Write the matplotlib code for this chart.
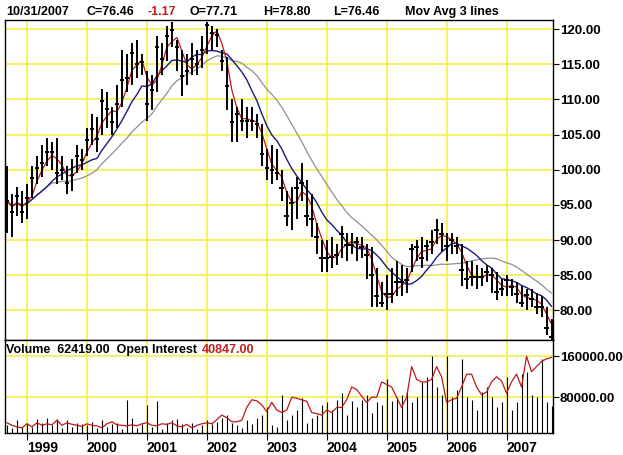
import matplotlib
matplotlib.use("Agg")
import matplotlib.pyplot as plt
import numpy as np
import pandas as pd

plt.rcParams['font.family'] = ['Liberation Sans', 'DejaVu Sans']

close = [95.6,94.0,96.3,94.0,
 96.0,98.8,100.2,100.9,102.6,102.6,99.5,100.0,98.1,99.3,101.9,101.4,
 104.2,105.8,104.4,109.8,108.6,106.8,109.3,112.7,113.1,116.6,115.0,115.3,
 109.3,111.4,117.5,115.8,119.0,119.9,117.5,113.3,114.0,115.8,115.0,117.1,
 120.6,119.4,119.2,115.4,111.9,106.8,107.9,107.0,107.0,107.0,106.5,102.3,
 100.2,100.0,99.5,97.4,93.5,95.3,97.4,98.1,93.5,93.0,90.4,87.4,
 87.4,87.6,87.9,90.9,89.3,89.3,89.7,89.0,87.9,85.0,82.0,81.1,
 82.4,82.4,84.1,84.1,84.3,88.8,89.0,87.4,89.2,89.7,91.4,90.9,
 89.2,90.0,89.2,85.7,84.5,84.8,84.8,84.8,85.5,85.0,82.6,83.1,
 84.3,83.3,82.4,81.0,82.2,81.7,80.5,80.5,77.5,76.2]
high = [100.5,96.5,97.5,97.0,
 98.0,100.5,102.0,103.5,104.5,104.0,104.5,102.0,100.5,101.5,103.5,103.0,
 106.0,108.0,107.5,111.5,111.0,109.0,112.0,117.0,116.5,118.0,118.5,116.5,
 114.0,113.5,119.0,118.0,120.5,121.0,118.5,117.0,116.5,118.0,117.0,119.0,
 121.0,120.5,120.0,117.0,116.0,110.0,109.0,110.0,109.0,109.0,108.0,106.5,
 103.0,103.5,103.0,100.0,97.0,97.5,99.0,101.0,98.5,96.5,92.5,90.0,
 90.0,90.5,89.5,92.0,91.0,91.0,90.5,90.5,89.5,89.0,86.0,84.0,
 85.0,86.0,87.0,86.5,86.0,89.5,90.0,90.5,90.0,91.5,93.0,92.5,
 91.0,91.0,90.5,89.5,87.0,87.0,86.5,86.0,86.5,86.0,85.5,84.5,
 85.0,84.5,84.0,83.5,83.0,83.0,82.5,82.0,80.5,78.8]
low = [91.0,90.5,93.5,92.5,
 93.0,96.0,98.0,99.0,100.5,100.0,98.0,98.5,96.5,97.0,99.5,100.0,
 102.0,103.5,102.5,105.0,106.0,105.0,106.0,109.0,111.0,112.0,113.0,113.5,
 107.0,108.5,111.0,113.5,115.5,117.5,114.0,110.5,112.0,113.5,113.5,114.5,
 116.5,117.0,117.5,114.0,108.5,104.0,104.0,105.5,104.5,105.5,104.5,100.5,
 98.5,98.0,98.5,95.5,92.0,91.5,93.0,95.5,92.0,90.5,88.0,85.5,
 85.5,86.0,86.5,87.5,87.0,88.0,87.0,87.5,84.5,80.5,80.5,80.5,
 80.0,81.0,82.0,82.0,82.5,85.5,87.0,86.0,87.0,88.0,89.5,88.5,
 87.0,88.0,88.0,83.5,83.0,83.5,83.0,83.5,84.0,82.5,81.5,82.0,
 82.0,82.0,81.0,80.5,80.0,80.5,79.5,79.0,76.5,75.8]
volume = [25000,20000,35000,22000,
 30000,22000,38000,30000,40000,25000,38000,20000,35000,22000,30000,28000,
 25000,32000,20000,35000,22000,28000,30000,18000,75000,40000,20000,28000,
 65000,22000,72000,18000,30000,35000,38000,28000,20000,30000,18000,25000,
 36000,28000,32000,40000,45000,30000,25000,20000,35000,28000,40000,45000,
 60000,25000,22000,85000,35000,45000,55000,78000,30000,40000,45000,65000,
 70000,55000,75000,88000,45000,72000,60000,75000,85000,50000,70000,65000,
 115000,72000,80000,85000,90000,70000,80000,110000,120000,160000,100000,85000,
 160000,80000,95000,155000,80000,75000,55000,90000,100000,80000,60000,70000,
 120000,55000,70000,125000,130000,85000,80000,155000,70000,62419]
open_interest = [30000,25000,22000,20000,
 28000,22000,30000,25000,28000,26000,35000,25000,30000,27000,25000,23000,
 28000,25000,24000,20000,28000,32000,26000,25000,24000,26000,24000,28000,
 30000,25000,24000,28000,27000,30000,24000,22000,27000,20000,25000,28000,
 30000,28000,36000,45000,40000,32000,32000,35000,60000,75000,73000,65000,
 52000,70000,55000,50000,55000,80000,78000,75000,72000,50000,48000,45000,
 55000,50000,60000,60000,75000,100000,95000,82000,70000,80000,80000,110000,
 105000,100000,80000,60000,80000,140000,115000,110000,110000,115000,140000,120000,
 70000,75000,78000,100000,125000,125000,100000,85000,90000,110000,120000,112000,
 88000,110000,125000,100000,160000,130000,140000,150000,155000,158000]
years = ['1999','2000','2001','2002','2003','2004','2005','2006','2007']
year_idx = [4 + 12*k for k in range(len(years))]
price_ticks = [80,85,90,95,100,105,110,115,120]
vol_ticks = [80000,160000]

x = np.arange(len(close))
s = pd.Series(close)
ma1 = s.rolling(3, min_periods=1).mean()
ma2 = s.rolling(9, min_periods=1).mean()
ma3 = s.rolling(18, min_periods=1).mean()

W, H = 623, 455
fig = plt.figure(figsize=(W/100, H/100), dpi=100)
fig.patch.set_facecolor('white')
grid_c = '#f5f04a'
ax = fig.add_axes([5/W, 1-340/H, 548/W, 320/H])
axv = fig.add_axes([5/W, 1-433/H, 548/W, 93/H], sharex=ax)

for a in (ax, axv):
    for xi in year_idx:
        a.axvline(xi, color=grid_c, lw=1.2, zorder=0)
    for sp in a.spines.values():
        sp.set_color('black'); sp.set_linewidth(1)
    a.yaxis.tick_right()
    a.tick_params(axis='y', direction='out', length=4, labelsize=9.5, pad=1)
for p in price_ticks:
    ax.axhline(p, color=grid_c, lw=1.2, zorder=0)
for v in vol_ticks:
    axv.axhline(v, color=grid_c, lw=1.2, zorder=0)

ax.vlines(x, low, high, color='black', lw=1.4, zorder=3)
ax.hlines(close, x-0.45, x+0.45, color='black', lw=1.4, zorder=3)
ax.plot(x, ma3, color='#909090', lw=0.9, zorder=2)
ax.plot(x, ma2, color='#1a1a80', lw=1.0, zorder=2)
ax.plot(x, ma1, color='#c01818', lw=0.9, zorder=2)
ax.set_ylim(75.8, 121.3)
ax.set_xlim(-0.4, 109.3)
ax.set_yticks(price_ticks)
ax.set_yticklabels(['%.2f' % p for p in price_ticks])
ax.tick_params(axis='x', bottom=False, labelbottom=False)

axv.vlines(x, 10000, volume, color='black', lw=0.8, zorder=2)
axv.plot(x, open_interest, color='#c01818', lw=0.9, zorder=3)
axv.set_ylim(10000, 192000)
axv.set_yticks(vol_ticks)
axv.set_yticklabels(['80000.00', '160000.00'])
axv.set_xticks(year_idx)
axv.set_xticklabels(years, ha='left')
axv.tick_params(axis='x', direction='out', length=5, labelsize=10, pad=1)
for t in axv.get_xticklabels() + axv.get_yticklabels() + ax.get_yticklabels():
    t.set_fontweight('bold')

def T(px, py, s, c='black', fs=9):
    fig.text(px/W, 1-py/H, s, color=c, fontsize=fs, fontweight='bold', va='center', ha='left')
T(6, 12, '10/31/2007'); T(87, 12, 'C=76.46'); T(148, 12, '-1.17', '#c02020')
T(190, 12, 'O=77.71'); T(263, 12, 'H=78.80'); T(333, 12, 'L=76.46'); T(405, 12, 'Mov Avg 3 lines')
T(6, 350, 'Volume  62419.00  Open Interest'); T(202, 350, '40847.00', '#c02020')

fig.savefig('out.png', dpi=100)
